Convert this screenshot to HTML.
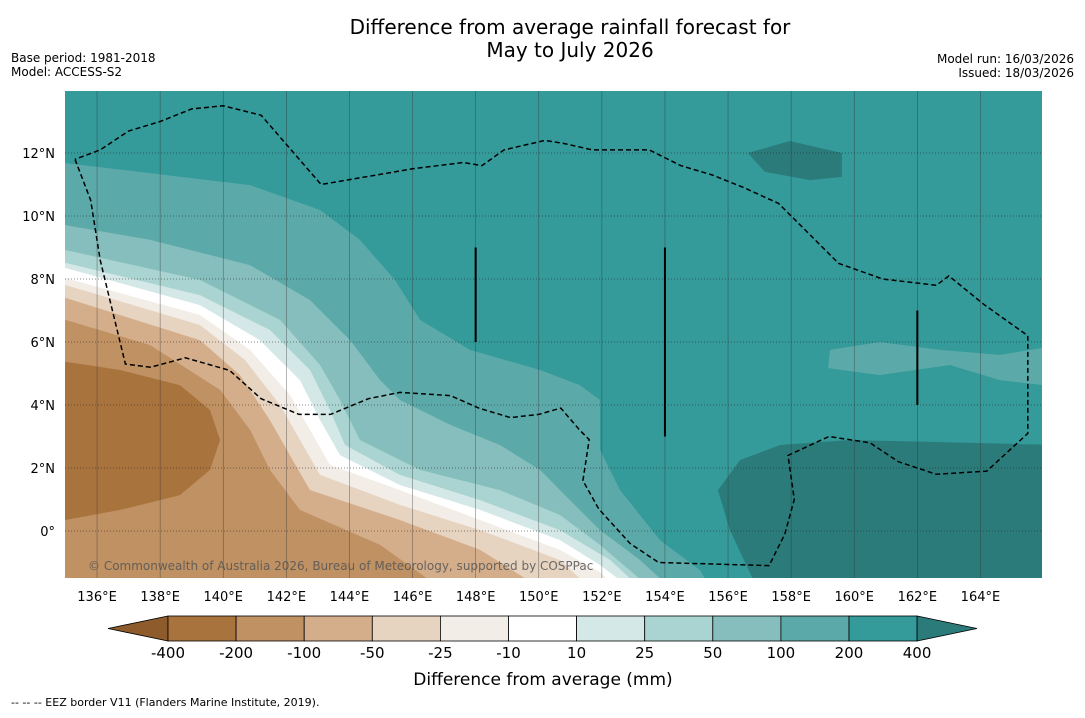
<!DOCTYPE html>
<html><head><meta charset="utf-8"><style>
body{margin:0;background:#fff;font-family:"Liberation Sans","DejaVu Sans",sans-serif}
svg text{font-family:"DejaVu Sans","Liberation Sans",sans-serif}
</style></head><body>
<svg id="s" width="1085" height="713" viewBox="0 0 1085 713" xmlns="http://www.w3.org/2000/svg">
<text x="570" y="34" font-size="20" text-anchor="middle">Difference from average rainfall forecast for</text>
<text x="570" y="57" font-size="20" text-anchor="middle">May to July 2026</text>
<text x="11" y="62" font-size="12">Base period: 1981-2018</text>
<text x="11" y="76" font-size="12">Model: ACCESS-S2</text>
<text x="1074" y="63" font-size="12" text-anchor="end">Model run: 16/03/2026</text>
<text x="1074" y="77" font-size="12" text-anchor="end">Issued: 18/03/2026</text>
<defs><clipPath id="mc"><rect x="65" y="91" width="977" height="487"/></clipPath></defs>
<g id="map" clip-path="url(#mc)"></g>
<g id="axes"></g>
<g id="cbar"></g>
<text x="543" y="685" font-size="17" text-anchor="middle">Difference from average (mm)</text>
<text x="11" y="706" font-size="11">--  --  -- EEZ border V11 (Flanders Marine Institute, 2019).</text>
</svg>
<script>
const levels=[-400,-200,-100,-50,-25,-10,10,25,50,100,200,400];
const colors=['#8d5b2c','#a9733d','#bf9163','#d4ae8b','#e6d3c0','#f3ede8','#ffffff','#d4e9e7','#a9d4d1','#85bebc','#5baaa9','#349a9a','#2b7b7b'];
const lonTicks=[136,138,140,142,144,146,148,150,152,154,156,158,160,162,164];
const latTicks=[0,2,4,6,8,10,12];
const b200=[[135,11.68],[140.85,10.98],[143.07,10.19],[144.33,9.24],[145.44,7.97],[146.24,6.7],[147.82,5.75],[150.04,5.11],[151.31,4.63],[151.94,4.16],[151.94,2.57],[152.58,1.3],[153.84,-0.29],[155.11,-1.24],[155.43,-1.8]];
const b100=[[135,9.71],[137.68,9.24],[140.85,8.44],[142.75,7.33],[144.02,6.06],[144.97,4.79],[145.6,4.16],[147.19,3.37],[148.77,2.73],[150.04,1.94],[150.99,0.98],[151.94,0.03],[153.21,-0.92],[154.16,-1.8]];
const b50=[[135,8.92],[139.26,7.97],[141.8,6.7],[143.07,5.27],[143.7,4.16],[144.33,2.89],[146.24,1.94],[148.77,1.3],[150.67,0.51],[151.94,-0.44],[153.53,-1.8]];
const b25=[[135,8.51],[139.26,7.49],[141.48,6.38],[142.75,5.11],[143.38,3.84],[143.86,2.73],[145.6,1.78],[148.14,0.98],[150.67,0.03],[152.26,-0.92],[153.21,-1.8]];
const b10=[[135,8.35],[139.26,7.17],[141.16,6.06],[142.43,4.79],[143.07,3.52],[143.7,2.41],[145.6,1.46],[148.14,0.67],[150.67,-0.29],[151.94,-1.08],[152.89,-1.8]];
const bm10=[[135,8.03],[139.26,6.86],[140.85,5.75],[142.11,4.32],[142.75,3.21],[143.38,2.1],[145.6,1.3],[148.14,0.35],[150.67,-0.6],[151.94,-1.3],[152.42,-1.8]];
const bm25=[[135,7.81],[139.26,6.54],[140.69,5.43],[141.8,4],[142.43,2.89],[143.07,1.78],[145.6,0.83],[148.14,0.03],[150.67,-0.92],[151.62,-1.8]];
const bm50=[[135,7.4],[139.26,6.06],[140.53,4.95],[141.48,3.52],[142.11,2.41],[142.75,1.3],[145.6,0.35],[148.14,-0.6],[150.04,-1.8]];
const bm100=[[135,6.7],[137.68,5.9],[139.9,4.48],[140.85,3.21],[141.48,1.94],[142.43,0.67],[144.97,-0.44],[146.87,-1.8]];
const bm200=[[134,5.37],[135,5.37],[136.73,5.11],[138.63,4.63],[139.58,3.84],[139.9,2.89],[139.58,1.94],[138.63,1.14],[136.73,0.67],[135,0.35],[134,0.35]];
const high1=[[156.38,2.25],[157.65,2.73],[159.86,2.89],[166.5,2.73],[166.5,-2],[157.01,-2],[156.06,0.03],[155.68,1.3]];
const high2=[[156.63,12],[157.96,12.38],[159.61,12],[159.61,11.24],[158.6,11.14],[157.17,11.4]];
const low1=[[159.23,5.75],[160.81,6],[162.72,5.75],[164.62,5.59],[166.5,5.9],[166.5,4.57],[164.62,4.79],[163.03,5.27],[160.81,4.95],[159.17,5.17]];
const eez=[[135.3,11.8],[135.8,10.5],[136.1,8.6],[136.9,5.3],[137.7,5.2],[138.8,5.5],[140.2,5.1],[141.2,4.2],[142.4,3.7],[143.4,3.7],[144.6,4.2],[145.6,4.4],[147.2,4.3],[148.1,3.9],[149.1,3.6],[150,3.7],[150.7,3.9],[151.3,3.2],[151.6,2.9],[151.4,1.6],[151.9,0.7],[152.9,-0.4],[153.8,-1],[157.3,-1.1],[157.8,-0.1],[158.1,1],[157.9,2.4],[159.2,3],[160.5,2.8],[161.4,2.2],[162.6,1.8],[164.2,1.9],[165.5,3.1],[165.5,6.2],[164.1,7.2],[163,8.1],[162.6,7.8],[160.9,8],[159.5,8.5],[158.4,9.6],[157.6,10.4],[156.5,10.9],[155.5,11.3],[154.5,11.6],[153.5,12.1],[152.2,12.1],[151.7,12.1],[150.8,12.3],[150.2,12.4],[148.9,12.1],[148.2,11.6],[147.6,11.7],[146,11.5],[143.1,11],[141.2,13.2],[140,13.5],[139,13.4],[138,13],[137,12.7],[136.1,12.1],[135.3,11.8]];
const ridges=[[148,9],[148,6],[154,9],[154,3],[162,7],[162,4]];
const x=lon=>65.5+(lon-135)*31.55, y=lat=>531-lat*31.5;
const NS='http://www.w3.org/2000/svg';
function mk(tag,attrs,parent){const e=document.createElementNS(NS,tag);for(const k in attrs)e.setAttribute(k,attrs[k]);parent.appendChild(e);return e;}
const map=document.getElementById('map');
const bg=mk('rect',{x:65,y:91,width:977,height:487,fill:colors[11]},map);


function pts(a){return a.map(p=>x(p[0]).toFixed(1)+','+y(p[1]).toFixed(1)).join(' ');}
function band(a,col,name){const p=pts(a)+' '+x(134).toFixed(1)+','+y(-3).toFixed(1)+' '+x(134).toFixed(1)+','+y(a[0][1]).toFixed(1);const e=mk('polygon',{points:p,fill:col},map);

}
band(b200,colors[10],'region-below-200');band(b100,colors[9],'region-below-100');band(b50,colors[8],'region-below-50');
band(b25,colors[7],'region-below-25');band(b10,colors[6],'region-below-10');band(bm10,colors[5],'region-below-minus10');
band(bm25,colors[4],'region-below-minus25');band(bm50,colors[3],'region-below-minus50');band(bm100,colors[2],'region-below-minus100');
[[bm200,colors[1],'region-below-minus200'],[high1,colors[12],'region-above-400-south'],[high2,colors[12],'region-above-400-north'],[low1,colors[10],'region-100-200-east']].forEach(r=>{const e=mk('polygon',{points:pts(r[0]),fill:r[1]},map);

});
lonTicks.forEach(l=>{const e=mk('line',{x1:x(l),x2:x(l),y1:91,y2:578,stroke:'#333','stroke-width':0.6,'stroke-opacity':0.6},map);

});
latTicks.forEach(l=>{const e=mk('line',{x1:65,x2:1042,y1:y(l),y2:y(l),stroke:'#222','stroke-width':0.8,'stroke-dasharray':'1,2','stroke-opacity':0.7},map);

});
const ez=mk('polyline',{points:pts(eez),fill:'none',stroke:'#000','stroke-width':1.5,'stroke-dasharray':'5,3'},map);


for(let i=0;i<ridges.length;i+=2){const e=mk('line',{x1:x(ridges[i][0]),x2:x(ridges[i+1][0]),y1:y(ridges[i][1]),y2:y(ridges[i+1][1]),stroke:'#000','stroke-width':2},map);

}
const cp=mk('text',{x:88,y:570,'font-size':12,fill:'#555','fill-opacity':0.85},map);cp.textContent='© Commonwealth of Australia 2026, Bureau of Meteorology, supported by COSPPac';


const ax=document.getElementById('axes');
lonTicks.forEach(l=>{const t=mk('text',{x:x(l),y:601,'font-size':13,'text-anchor':'middle'},ax);t.textContent=l+'°E';

});
latTicks.forEach(l=>{const t=mk('text',{x:55,y:y(l)+5,'font-size':13,'text-anchor':'end'},ax);t.textContent=l===0?'0°':l+'°N';

});
const cb=document.getElementById('cbar');const bx0=168,bw=68.1,cy=616,ch=25;
const lt=mk('polygon',{points:`${bx0},${cy} ${bx0},${cy+ch} 108,${cy+ch/2}`,fill:colors[0],stroke:'#000','stroke-width':0.8},cb);


for(let i=0;i<11;i++){const r=mk('rect',{x:bx0+i*bw,y:cy,width:bw,height:ch,fill:colors[i+1],stroke:'#000','stroke-width':0.8},cb);

}
const xe=bx0+11*bw;
const rt=mk('polygon',{points:`${xe},${cy} ${xe},${cy+ch} 977,${cy+ch/2}`,fill:colors[12],stroke:'#000','stroke-width':0.8},cb);


levels.forEach((v,i)=>{const t=mk('text',{x:bx0+i*bw,y:658,'font-size':15,'text-anchor':'middle'},cb);t.textContent=v;

});
</script>
</body></html>
